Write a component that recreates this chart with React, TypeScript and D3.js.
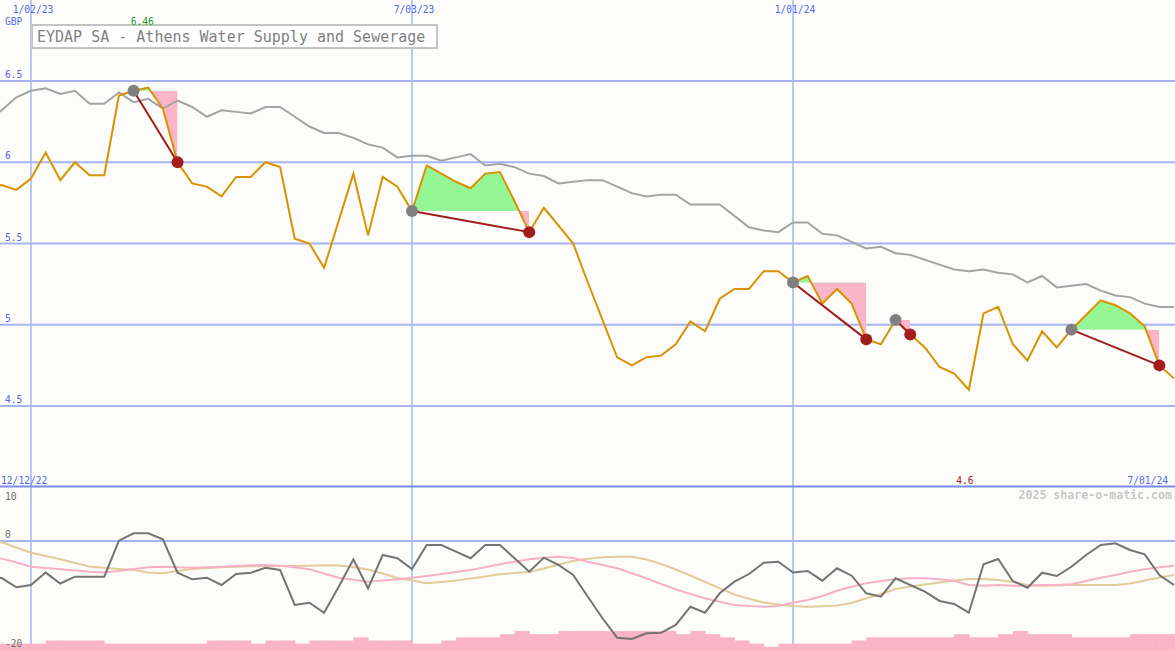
import * as d3 from "d3";

const W = 1175;
const H = 650;

const TITLE = "EYDAP SA - Athens Water Supply and Sewerage";
const CURRENCY = "GBP";
const WATERMARK = "2025 share-o-matic.com";

// weekly closes, Monday 12/12/22 .. Monday 7/01/24
const START = new Date(2022, 11, 12);
const END = new Date(2024, 6, 1);
const WEEKS = d3.timeMonday.range(START, d3.timeDay.offset(END, 1));

const PRICE = [
  5.84, 5.86, 5.83, 5.9, 6.06, 5.89, 6.0, 5.92, 5.92, 6.41, 6.44, 6.46, 6.33, 6.0,
  5.87, 5.85, 5.79, 5.91, 5.91, 6.0, 5.97, 5.53, 5.5, 5.35, 5.64, 5.93, 5.55, 5.91,
  5.85, 5.7, 5.98, 5.93, 5.88, 5.84, 5.93, 5.94, 5.76, 5.57, 5.72, 5.61, 5.5, 5.26,
  5.03, 4.8, 4.75, 4.8, 4.81, 4.88, 5.02, 4.96, 5.16, 5.22, 5.22, 5.33, 5.33, 5.26,
  5.3, 5.13, 5.22, 5.13, 4.91, 4.88, 5.03, 4.94, 4.86, 4.74, 4.7, 4.6, 5.07, 5.11,
  4.88, 4.78, 4.96, 4.86, 4.97, 5.06, 5.15, 5.12, 5.07, 4.99, 4.75, 4.67,
];

const AVERAGE = [
  6.25, 6.32, 6.4, 6.44, 6.455, 6.42, 6.44, 6.36, 6.36, 6.43, 6.37, 6.39, 6.33, 6.38,
  6.34, 6.28, 6.32, 6.31, 6.3, 6.34, 6.34, 6.28, 6.22, 6.18, 6.18, 6.15, 6.11, 6.09,
  6.03, 6.04, 6.04, 6.01, 6.03, 6.05, 5.98, 5.99, 5.97, 5.93, 5.915, 5.87, 5.88, 5.89,
  5.89, 5.85, 5.81, 5.79, 5.8, 5.8, 5.74, 5.74, 5.74, 5.67, 5.6, 5.58, 5.57, 5.63,
  5.63, 5.56, 5.55, 5.51, 5.47, 5.48, 5.44, 5.43, 5.4, 5.37, 5.34, 5.33, 5.34, 5.32,
  5.31, 5.26, 5.3, 5.23, 5.24, 5.25, 5.21, 5.18, 5.17, 5.13, 5.11, 5.11,
];

const MOMENTUM = [
  -6.5, -6.8, -8.5, -8.07, -5.8, -7.8, -6.55, -6.55, -6.55, 0.05, 1.41, 1.41, 0.31, -5.82,
  -7.03, -6.73, -8.07, -6.06, -5.82, -4.9, -5.32, -11.74, -11.32, -13.16, -8.39, -3.36, -8.68, -2.57,
  -3.17, -5.14, -0.73, -0.73, -1.96, -3.17, -0.73, -0.73, -3.17, -5.63, -3.06, -4.4, -6.24, -10.22,
  -14.18, -17.74, -17.98, -16.94, -16.83, -15.41, -12.06, -13.16, -9.6, -7.47, -6.06, -3.98, -3.8, -5.78,
  -5.5, -7.28, -5.01, -6.37, -9.6, -10.22, -6.84, -8.07, -9.3, -11.0, -11.56, -13.16, -4.28, -3.3,
  -7.34, -8.57, -5.82, -6.42, -4.72, -2.57, -0.73, -0.42, -1.65, -2.44, -6.24, -8.07,
];

const SIGNAL = [
  -2.5, -3.23, -3.94, -4.72, -4.95, -5.19, -5.41, -5.63, -5.78, -5.5, -5.14, -4.83, -4.72, -4.83,
  -4.9, -4.83, -4.72, -4.59, -4.46, -4.4, -4.53, -4.83, -5.19, -5.96, -6.73, -7.1, -7.47, -7.25,
  -7.03, -6.73, -6.42, -6.06, -5.69, -5.32, -4.83, -4.28, -3.8, -3.36, -3.06, -2.88, -3.12, -3.8,
  -4.4, -5.01, -5.93, -6.84, -7.89, -8.86, -9.72, -10.51, -11.14, -11.74, -11.93, -12.06, -11.93, -11.32,
  -10.83, -10.09, -9.12, -8.39, -7.76, -7.34, -7.03, -6.84, -6.84, -7.03, -7.28, -8.07, -8.2, -8.07,
  -8.2, -8.2, -8.07, -8.07, -7.94, -7.34, -6.73, -6.24, -5.63, -5.19, -4.83, -4.53,
];

const SLOW = [
  0.7, -0.24, -1.19, -2.15, -2.75, -3.36, -4.04, -4.68, -4.92, -5.14, -5.32, -5.78, -5.93, -5.5,
  -5.14, -4.95, -4.83, -4.72, -4.64, -4.59, -4.59, -4.59, -4.53, -4.46, -4.5, -4.77, -5.23, -5.96,
  -6.79, -7.25, -7.76, -7.52, -7.25, -6.88, -6.51, -6.11, -5.87, -5.69, -5.05, -4.31, -3.67, -3.25,
  -2.97, -2.9, -2.9, -3.39, -4.22, -5.23, -6.33, -7.52, -8.68, -9.82, -10.61, -11.28, -11.65, -11.93,
  -12.06, -11.98, -11.83, -11.38, -10.51, -9.72, -8.81, -8.35, -7.98, -7.61, -7.25, -6.97, -6.97, -7.16,
  -7.52, -8.07, -8.2, -8.17, -8.07, -8.07, -8.07, -8.07, -7.8, -7.25, -6.7, -6.24,
];

const VOLUME = [
  2, 2, 2, 2, 3, 3, 3, 3, 2, 2, 2, 2, 2, 2, 2, 3, 3, 3, 2, 3, 3, 2, 3, 3, 3, 4, 3, 3,
  3, 2, 2, 3, 4, 4, 4, 5, 6, 5, 5, 6, 6, 6, 6, 6, 6, 6, 6, 5, 6, 5, 4, 3, 2, 1, 2, 2,
  2, 2, 2, 3, 4, 4, 4, 4, 4, 4, 5, 4, 4, 5, 6, 5, 5, 5, 4, 4, 4, 4, 5, 5, 5, 5,
];

// buy / sell week indexes
const TRADES = [
  { entry: 10, exit: 13 },
  { entry: 29, exit: 37 },
  { entry: 55, exit: 60 },
  { entry: 62, exit: 63 },
  { entry: 74, exit: 80 },
];

const PRICE_TICKS = [4.5, 5, 5.5, 6, 6.5];
const LOWER_TICKS = [10, 0, -20];
const DATE_TICKS = [new Date(2023, 0, 2), new Date(2023, 6, 3), new Date(2024, 0, 1)];

const BG = "#fcfdfa";
const GRID = "#a6b4f2";
const BLUE_TEXT = "#5567ee";
const MONO = "'DejaVu Sans Mono', monospace";
const CHAR_W = 5.8;

const fmtDate = d3.timeFormat("%-m/%d/%y");

function Label({
  x,
  y,
  text,
  fill,
  anchor = "start",
}: {
  x: number;
  y: number;
  text: string;
  fill: string;
  anchor?: "start" | "middle" | "end";
}) {
  const len = text.length * CHAR_W;
  const left = anchor === "start" ? x : anchor === "middle" ? x - len / 2 : x - len;
  return (
    <text
      x={left}
      y={y}
      fill={fill}
      fontFamily={MONO}
      fontSize={11}
      textLength={len}
      lengthAdjust="spacingAndGlyphs"
    >
      {text}
    </text>
  );
}

export default function App() {
  const x = d3
    .scaleTime()
    .domain([new Date(2023, 0, 2), END])
    .range([31, 1174]);
  const y = d3.scaleLinear().domain([4.5, 6.5]).range([406, 81]);
  const yl = d3.scaleLinear().domain([-20, 10]).range([650, 486.5]);
  const yv = d3.scaleLinear().domain([0, 6]).range([650, 631]);

  const xi = (i: number) => x(WEEKS[i]);
  const step = xi(1) - xi(0);

  const priceLine = d3
    .line<number>()
    .x((_, i) => xi(i))
    .y((d) => y(d));
  const lowerLine = d3
    .line<number>()
    .x((_, i) => xi(i))
    .y((d) => yl(d));

  const hiIdx = d3.maxIndex(PRICE);
  const loIdx = d3.minIndex(PRICE);

  const trades = TRADES.map((t, n) => {
    const base = PRICE[t.entry];
    const idx = d3.range(t.entry, t.exit + 1);
    const area = d3
      .area<number>()
      .x((i) => xi(i))
      .y0(y(base))
      .y1((i) => y(PRICE[i]))(idx);
    return { ...t, n, base, area: area ?? "" };
  });

  return (
    <svg
      width={W}
      height={H}
      style={{ position: "absolute", left: 0, top: 0, display: "block" }}
    >
      <defs>
        {trades.map((t) => (
          <clipPath key={`cg${t.n}`} id={`gain${t.n}`}>
            <rect x={xi(t.entry)} y={0} width={xi(t.exit) - xi(t.entry)} height={y(t.base)} />
          </clipPath>
        ))}
        {trades.map((t) => (
          <clipPath key={`cl${t.n}`} id={`loss${t.n}`}>
            <rect
              x={xi(t.entry)}
              y={y(t.base)}
              width={xi(t.exit) - xi(t.entry)}
              height={H - y(t.base)}
            />
          </clipPath>
        ))}
        <clipPath id="upper">
          <rect x={0} y={0} width={W} height={486} />
        </clipPath>
      </defs>
      <rect width={W} height={H} fill={BG} />

      {/* grid */}
      {PRICE_TICKS.map((p) => (
        <line key={p} x1={0} x2={W} y1={y(p)} y2={y(p)} stroke={GRID} strokeWidth={2} />
      ))}
      <line x1={0} x2={W} y1={yl(0)} y2={yl(0)} stroke={GRID} strokeWidth={2} />
      {DATE_TICKS.map((d) => (
        <line key={+d} x1={x(d)} x2={x(d)} y1={0} y2={H} stroke={GRID} strokeWidth={1.5} />
      ))}
      <line x1={0} x2={W} y1={yl(10)} y2={yl(10)} stroke="#7989f0" strokeWidth={2} />

      {/* trades: losses and gains */}
      <g clipPath="url(#upper)">
        {trades.map((t) => (
          <path key={`l${t.n}`} d={t.area} fill="#fab5c9" clipPath={`url(#loss${t.n})`} />
        ))}
        {trades.map((t) => (
          <path key={`g${t.n}`} d={t.area} fill="#94f694" clipPath={`url(#gain${t.n})`} />
        ))}
        <path d={priceLine(AVERAGE) ?? ""} fill="none" stroke="#a4a4a4" strokeWidth={2} />
        <path d={priceLine(PRICE) ?? ""} fill="none" stroke="#d99200" strokeWidth={2} />
        {trades.map((t) => (
          <g key={`t${t.n}`}>
            <line
              x1={xi(t.entry)}
              y1={y(t.base)}
              x2={xi(t.exit)}
              y2={y(PRICE[t.exit])}
              stroke="#a01c1c"
              strokeWidth={2}
            />
            <circle cx={xi(t.entry)} cy={y(t.base)} r={6} fill="#808080" />
            <circle cx={xi(t.exit)} cy={y(PRICE[t.exit])} r={6} fill="#a31d1d" />
          </g>
        ))}
      </g>

      {/* lower panel */}
      {VOLUME.map((v, i) => (
        <rect
          key={i}
          x={xi(i)}
          y={yv(v)}
          width={step + 0.5}
          height={yv(0) - yv(v)}
          fill="#f9b4c8"
        />
      ))}
      <path d={lowerLine(SLOW) ?? ""} fill="none" stroke="#e3cb9a" strokeWidth={2} />
      <path d={lowerLine(SIGNAL) ?? ""} fill="none" stroke="#f7b0c6" strokeWidth={2} />
      <path d={lowerLine(MOMENTUM) ?? ""} fill="none" stroke="#747474" strokeWidth={2} />

      {/* title */}
      <rect x={32} y={25} width={405} height={23} fill="#ffffff" stroke="#c4c4c4" strokeWidth={2} />
      <text x={37} y={41.5} fill="#808080" fontFamily={MONO} fontSize={15}>
        {TITLE}
      </text>

      {/* labels */}
      {DATE_TICKS.map((d) => (
        <Label key={+d} x={x(d) + 2} y={13} text={fmtDate(d)} fill={BLUE_TEXT} anchor="middle" />
      ))}
      <Label x={5} y={25} text={CURRENCY} fill={BLUE_TEXT} />
      {PRICE_TICKS.map((p) => (
        <Label key={p} x={5} y={y(p) - 3} text={String(p)} fill={BLUE_TEXT} />
      ))}
      <Label x={xi(hiIdx) - 6} y={25} text={String(PRICE[hiIdx])} fill="#2a9a2a" anchor="middle" />
      <Label x={xi(loIdx) - 4} y={484} text={String(PRICE[loIdx])} fill="#a01818" anchor="middle" />
      <Label x={1} y={484} text={fmtDate(WEEKS[0])} fill={BLUE_TEXT} />
      <Label x={1168} y={484} text={fmtDate(WEEKS[WEEKS.length - 1])} fill={BLUE_TEXT} anchor="end" />
      {LOWER_TICKS.map((v) => (
        <Label
          key={v}
          x={5}
          y={Math.min(Math.max(yl(v) - 3, 500), 647)}
          text={String(v)}
          fill="#6e6e6e"
        />
      ))}
      <text
        x={1172}
        y={499}
        fill="#c8c8c8"
        fontFamily={MONO}
        fontSize={11.6}
        fontWeight="bold"
        textAnchor="end"
      >
        {WATERMARK}
      </text>
    </svg>
  );
}
